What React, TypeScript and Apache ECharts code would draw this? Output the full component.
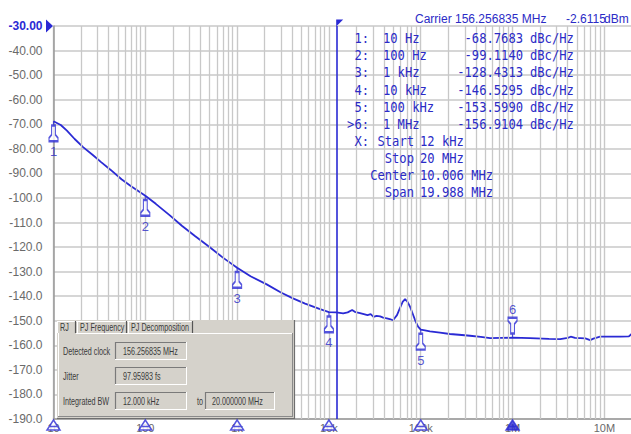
import React, { useEffect, useRef } from 'react';
import * as echarts from 'echarts';

// ---------- data ----------
const freqHz = [10, 12, 14, 17, 21, 27, 33, 42, 55, 70, 100, 130, 185, 250, 350, 500, 700, 1000, 1400, 2100, 3000, 4000, 5500, 8000, 10000, 12000, 14300, 16000, 17900, 19500, 21800, 24000, 26300, 28500, 30600, 33000, 36100, 39000, 42700, 46000, 49900, 55100, 59500, 63500, 67500, 71500, 76500, 86700, 93500, 100000, 111000, 126000, 162000, 208000, 280000, 344000, 450000, 570000, 750000, 1000000, 1550000, 2500000, 3300000, 4000000, 4300000, 4800000, 6200000, 7000000, 7600000, 9000000, 12000000, 15000000, 18500000, 20000000];
const phaseNoiseDb = [-68.8, -70.3, -72.6, -76.0, -79.3, -82.6, -85.4, -88.6, -92.4, -95.2, -99.1, -102.4, -107.1, -111.3, -115.6, -120.0, -124.3, -128.4, -131.9, -135.2, -138.5, -140.8, -143.0, -145.3, -146.5, -146.6, -147.0, -146.6, -145.6, -146.5, -146.9, -147.3, -147.7, -147.3, -148.4, -148.0, -148.2, -148.7, -149.0, -149.3, -149.8, -147.7, -144.8, -142.3, -141.2, -142.2, -144.3, -149.7, -152.4, -153.6, -153.9, -154.3, -154.8, -155.4, -155.8, -156.1, -156.6, -157.1, -157.0, -156.9, -157.1, -157.4, -157.5, -157.0, -156.5, -157.0, -157.2, -157.9, -157.3, -156.5, -156.5, -156.5, -156.4, -155.2];

const markerIds = ['1', '2', '3', '4', '5', '6'];
const markerRowLabels = ['1:', '2:', '3:', '4:', '5:', '>6:'];
const markerFreqHz = [10, 100, 1000, 10000, 100000, 1000000];
const markerFreqText = ['10 Hz', '100 Hz', '1 kHz', '10 kHz', '100 kHz', '1 MHz'];
const markerDb = [-68.7683, -99.114, -128.4313, -146.5295, -153.599, -156.9104];
const markerUnit = 'dBc/Hz';
const activeMarker = 5;

const spanHeader = 'X:';
const spanLabels = ['Start', 'Stop', 'Center', 'Span'];
const spanValues = ['12 kHz', '20 MHz', '10.006 MHz', '19.988 MHz'];

const xTickLabels = ['10', '100', '1k', '10k', '100k', '1M', '10M'];
const decadesHz = [10, 100, 1000, 10000, 100000, 1000000, 10000000];
const minorMultipliers = [2, 3, 4, 5, 6, 7, 8, 9];
const xMinHz = 10;
const xMaxHz = 20000000;
const yMin = -190;
const yMax = -30;
const yStep = 10;
const cursorHz = 12000;

const carrierText = 'Carrier 156.256835 MHz';
const powerValue = '-2.6115';
const powerUnit = 'dBm';

const rjTabs = ['RJ', 'PJ Frequency', 'PJ Decomposition'];
const rjLabels = ['Detected clock', 'Jitter', 'Integrated BW'];
const rjValues = ['156.256835 MHz', '97.95983 fs', '12.000 kHz'];
const rjToLabel = 'to';
const rjToValue = '20.000000 MHz';

// ---------- styling ----------
const BLUE = '#2a2ad4';
const TEXT_BLUE = '#2b2bc6';
const GRID = '#c8c8c8';
const AXIS = '#9a9a9a';
const LABEL = '#6a6a6a';
const PANEL = '#d5d2cb';
const PANEL_TEXT = '#3a3a3a';

const lg = Math.log10;

const bellDown = 'path://M4.5,0L4.5,4M2.8,4L6.2,4L6.2,13L8.5,16L8.5,19L0.5,19L0.5,16L2.8,13Z';
const bellUp = 'path://M4.5,20L4.5,16M2.8,16L6.2,16L6.2,7L8.5,4L8.5,1L0.5,1L0.5,4L2.8,7Z';
const axisTri = 'path://M6,0L12,10L0,10ZM2.5,6.5L9.5,6.5';

function txt(text: string, x: number, y: number, o: any = {}) {
  const align = o.align || 'left';
  return {
    type: 'text',
    x,
    y,
    z: o.z ?? 12,
    scaleX: o.sx ?? 1,
    silent: true,
    style: {
      text,
      fill: o.fill || PANEL_TEXT,
      fontSize: o.size || 10,
      fontFamily: o.family || 'Liberation Sans',
      fontWeight: o.weight || 'normal',
      align,
      textAlign: align,
      verticalAlign: 'middle',
      textVerticalAlign: 'middle',
    },
  };
}
function ln(x1: number, y1: number, x2: number, y2: number, stroke: string, w = 1, z = 11) {
  return { type: 'line', z, silent: true, shape: { x1, y1, x2, y2 }, style: { stroke, lineWidth: w } };
}
function rect(x: number, y: number, w: number, h: number, fill: string, z = 10) {
  return { type: 'rect', z, silent: true, shape: { x, y, width: w, height: h }, style: { fill } };
}
function sunken(x: number, y: number, w: number, h: number) {
  return [
    rect(x, y, w, h, PANEL, 11),
    ln(x, y + 0.5, x + w, y + 0.5, '#7a7a7a', 1.2),
    ln(x + 0.5, y, x + 0.5, y + h, '#7a7a7a', 1.2),
    ln(x, y + h - 0.5, x + w, y + h - 0.5, '#ffffff', 1),
    ln(x + w - 0.5, y, x + w - 0.5, y + h, '#ffffff', 1),
  ];
}

function buildOption() {
  const minorLines: any[] = [];
  decadesHz.forEach((d) => {
    minorMultipliers.forEach((m) => {
      const v = d * m;
      if (v <= xMaxHz) minorLines.push({ xAxis: lg(v) });
    });
  });

  const trace = freqHz.map((f, i) => [lg(f), phaseNoiseDb[i]]);

  const markers = markerFreqHz.map((f, i) => {
    if (i === activeMarker) {
      return {
        value: [lg(f), markerDb[i]],
        symbol: bellUp,
        symbolOffset: [0, -10],
        label: { position: 'top', distance: 1 },
      };
    }
    return { value: [lg(f), markerDb[i]] };
  });

  const axisMarks = markerFreqHz.map((f, i) => {
    if (i === activeMarker) {
      return { value: [lg(f), yMin], itemStyle: { color: BLUE } };
    }
    return { value: [lg(f), yMin] };
  });

  // ---- graphic: header, marker table, RJ panel ----
  const g: any[] = [];
  g.push(txt(carrierText, 415, 19, { fill: TEXT_BLUE, size: 12 }));
  g.push(txt(powerValue, 566, 19, { fill: TEXT_BLUE, size: 12 }));
  g.push(txt(powerUnit, 604, 19, { fill: TEXT_BLUE, size: 12 }));

  const rowY = (i: number) => 38.3 + 17.16 * i;
  const mono = { family: 'DejaVu Sans Mono', size: 13.5, sx: 0.9, fill: TEXT_BLUE };
  markerRowLabels.forEach((l, i) => {
    g.push(txt(l, 369, rowY(i), { ...mono, align: 'right' }));
    g.push(txt(markerFreqText[i], 383, rowY(i), mono));
    g.push(txt(markerDb[i].toFixed(4), 523, rowY(i), { ...mono, align: 'right' }));
    g.push(txt(markerUnit, 530, rowY(i), mono));
  });
  g.push(txt(spanHeader, 369, rowY(6), { ...mono, align: 'right' }));
  spanLabels.forEach((l, i) => {
    g.push(txt(l, 414, rowY(6 + i), { ...mono, align: 'right' }));
    g.push(txt(spanValues[i], 420, rowY(6 + i), mono));
  });

  // RJ panel
  const px = 57, py = 320, pw = 238, ph = 99;
  g.push(rect(px, py, pw, ph, PANEL, 10));
  g.push(ln(px + pw - 0.5, py, px + pw - 0.5, py + ph, '#6f6f6f', 1.2));
  g.push(ln(px, py + ph - 0.5, px + pw, py + ph - 0.5, '#6f6f6f', 1.2));
  const tabX = [57, 77, 128];
  const tabEnd = [76, 127, 193];
  g.push(ln(px, 321.5, 193, 321.5, '#ffffff', 1));
  tabX.forEach((x, i) => {
    g.push(ln(x + 0.5, 321, x + 0.5, 333, '#ffffff', 1));
    g.push(ln(tabEnd[i] - 0.5, 321, tabEnd[i] - 0.5, 333, '#555555', 1.2));
    g.push(txt(rjTabs[i], x + 3, 327.5, { sx: 0.72 }));
  });
  const bx = 58, by = 333, bw = 235, bh = 84;
  g.push(ln(76, by + 0.5, bx + bw, by + 0.5, '#ffffff', 1));
  g.push(ln(bx + 0.5, by, bx + 0.5, by + bh, '#ffffff', 1));
  g.push(ln(bx + bw - 0.5, by, bx + bw - 0.5, by + bh, '#8a8a8a', 1));
  g.push(ln(bx, by + bh - 0.5, bx + bw, by + bh - 0.5, '#8a8a8a', 1));
  const fieldY = [342, 367, 392];
  rjLabels.forEach((l, i) => {
    const fy = fieldY[i];
    g.push(txt(l, 63, fy + 9.5, { sx: 0.72 }));
    sunken(115, fy, 72, 18).forEach((e) => g.push(e));
    g.push(txt(rjValues[i], 123, fy + 9.5, { sx: 0.72 }));
  });
  g.push(txt(rjToLabel, 197, 401.5, { sx: 0.72 }));
  sunken(205, 392, 70, 18).forEach((e) => g.push(e));
  g.push(txt(rjToValue, 212, 401.5, { sx: 0.72 }));

  return {
    animation: false,
    backgroundColor: '#ffffff',
    textStyle: { fontFamily: 'Liberation Sans' },
    grid: { left: 53.5, top: 26, width: 578.5, height: 393, containLabel: false, outerBoundsMode: 'none' },
    xAxis: {
      type: 'value',
      min: lg(xMinHz),
      max: lg(xMaxHz),
      interval: 1,
      axisLine: { show: true, onZero: false, lineStyle: { color: AXIS, width: 1.5 } },
      axisTick: { show: false },
      splitLine: { show: true, lineStyle: { color: GRID, width: 1.4 } },
      axisLabel: {
        margin: 3,
        fontSize: 11,
        color: LABEL,
        showMaxLabel: false,
        formatter: (v: number) => {
          const e = Math.round(v);
          if (Math.abs(v - e) > 1e-6) return '';
          return xTickLabels[e - 1] ?? '';
        },
      },
    },
    yAxis: {
      type: 'value',
      min: yMin,
      max: yMax,
      interval: yStep,
      axisLine: { show: true, lineStyle: { color: AXIS, width: 1.5 } },
      axisTick: { show: false },
      splitLine: { show: true, lineStyle: { color: GRID, width: 1.6 } },
      axisLabel: {
        margin: 11,
        fontSize: 12,
        color: LABEL,
        formatter: (v: number) => {
          const s = v > -100 ? v.toFixed(2) : v.toFixed(1);
          return v === yMax ? `{top|${s}}` : s;
        },
        rich: { top: { color: BLUE, fontWeight: 'bold', fontSize: 12 } },
      },
    },
    graphic: { elements: g },
    series: [
      {
        name: 'minor-grid',
        type: 'line',
        z: 1,
        data: [],
        silent: true,
        markLine: {
          silent: true,
          symbol: ['none', 'none'],
          label: { show: false },
          lineStyle: { color: GRID, width: 1.3, type: 'solid' },
          emphasis: { disabled: true },
          data: minorLines,
        },
      },
      {
        name: 'cursor',
        type: 'line',
        z: 4,
        data: [],
        silent: true,
        markLine: {
          silent: true,
          symbol: ['none', 'none'],
          label: { show: false },
          lineStyle: { color: BLUE, width: 1.6, type: 'solid' },
          emphasis: { disabled: true },
          data: [{ xAxis: lg(cursorHz) }],
        },
        markPoint: {
          silent: true,
          label: { show: false },
          itemStyle: { color: BLUE },
          data: [
            { coord: [lg(cursorHz), yMax], symbol: 'path://M0,0L8,0L0,8Z', symbolSize: [7, 7], symbolOffset: [3.5, -3] },
            { coord: [lg(xMinHz), yMax], symbol: 'path://M0,0L8,7L0,14Z', symbolSize: [7, 13], symbolOffset: [-4, 0] },
          ],
        },
      },
      {
        name: 'phase noise',
        type: 'line',
        z: 3,
        data: trace,
        showSymbol: false,
        silent: true,
        lineStyle: { color: BLUE, width: 1.8 },
      },
      {
        name: 'markers',
        type: 'scatter',
        z: 6,
        clip: false,
        silent: true,
        data: markers,
        symbol: bellDown,
        symbolSize: [9, 20],
        symbolOffset: [0, 10],
        itemStyle: { color: '#ffffff', borderColor: BLUE, borderWidth: 1.6 },
        label: {
          show: true,
          position: 'bottom',
          distance: 3,
          color: TEXT_BLUE,
          fontSize: 13,
          formatter: (p: any) => markerIds[p.dataIndex],
        },
      },
      {
        name: 'axis-markers',
        type: 'scatter',
        z: 20,
        clip: false,
        silent: true,
        data: axisMarks,
        symbol: axisTri,
        symbolSize: [13, 10],
        symbolOffset: [0, 6],
        itemStyle: { color: '#ffffff', borderColor: BLUE, borderWidth: 1.5 },
      },
    ],
  };
}

export default function App() {
  const ref = useRef<HTMLDivElement>(null);
  useEffect(() => {
    if (!ref.current) return;
    const chart = echarts.init(ref.current, null, { renderer: 'svg' });
    chart.setOption(buildOption() as any);
    return () => chart.dispose();
  }, []);
  return (
    <div
      ref={ref}
      style={{ position: 'fixed', left: 0, top: 0, width: 631, height: 434, background: '#fff' }}
    />
  );
}
